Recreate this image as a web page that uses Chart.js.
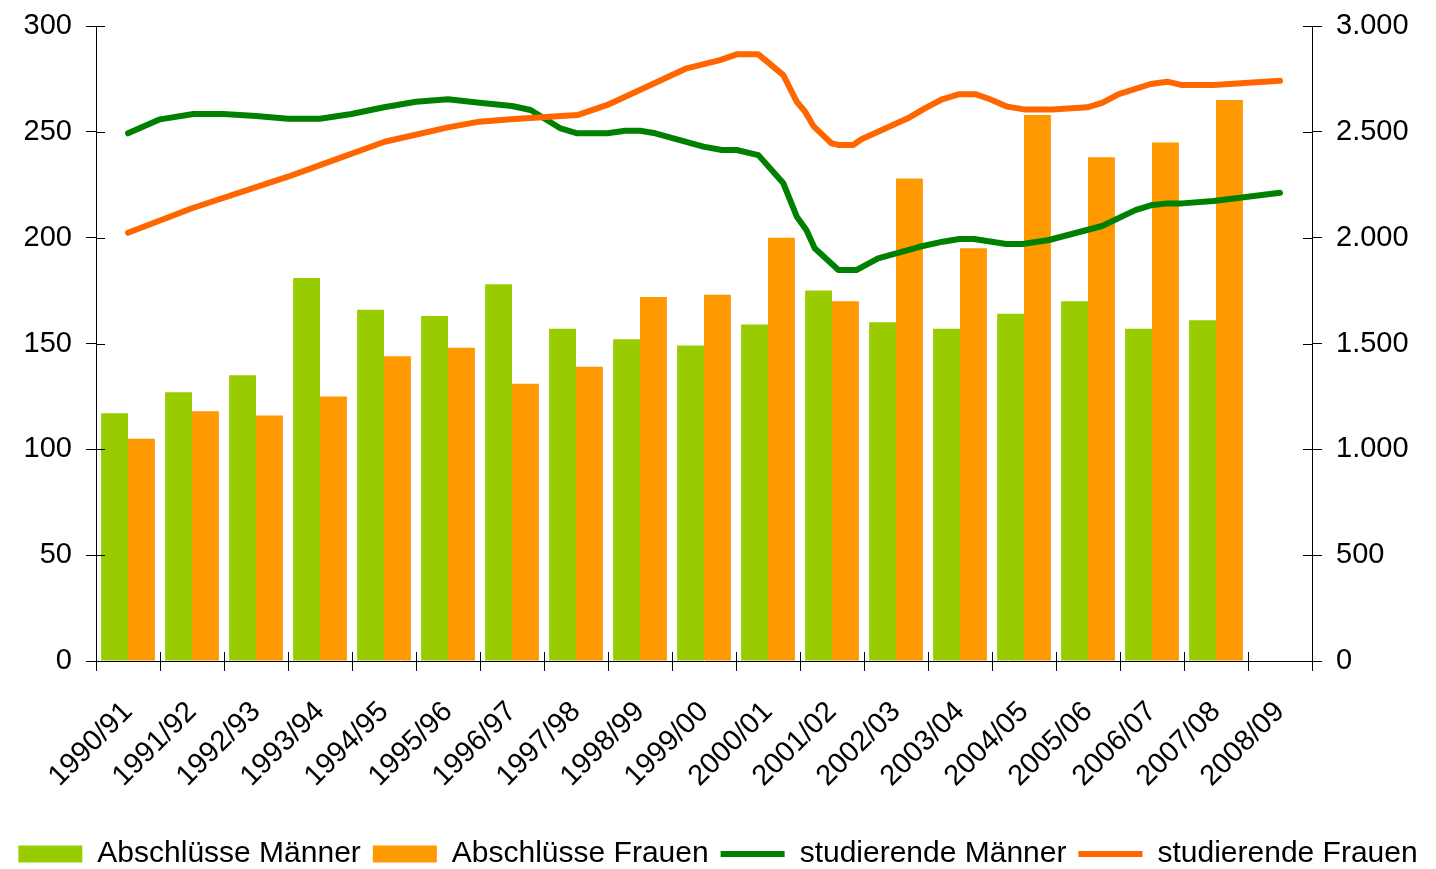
<!DOCTYPE html>
<html><head><meta charset="utf-8">
<script src="https://cdn.jsdelivr.net/npm/chart.js@4.4.1/dist/chart.umd.min.js"></script>
<style>html,body{margin:0;padding:0;background:#fff;overflow:hidden}</style>
</head><body>
<canvas id="c" width="1436" height="869" style="display:block;width:1436px;height:869px"></canvas>
<script>
const categories = ['1990/91','1991/92','1992/93','1993/94','1994/95','1995/96','1996/97','1997/98','1998/99','1999/00','2000/01','2001/02','2002/03','2003/04','2004/05','2005/06','2006/07','2007/08','2008/09'];
const abschluesseMaenner = [117,127,135,181,166,163,178,157,152,149,159,175,160,157,164,170,157,161,null];
const abschluesseFrauen = [105,118,116,125,144,148,131,139,172,173,200,170,228,195,258,238,245,265,null];
// studierende: time in academic years since 1990/91, values (right axis)
const maennerZeit = [0,0.5,1.02,1.49,2.0,2.5,3.0,3.49,4.0,4.5,5.0,5.49,6.0,6.29,6.76,7.02,7.49,7.77,8.0,8.24,8.99,9.28,9.51,9.85,10.24,10.45,10.6,10.73,11.1,11.38,11.72,12.37,12.73,12.99,13.22,13.72,13.98,14.39,15.22,15.74,15.98,16.24,16.47,16.96,18.0];
const maennerWerte = [2493,2559,2584,2584,2575,2562,2562,2584,2616,2642,2654,2637,2622,2603,2516,2493,2493,2505,2505,2493,2430,2414,2414,2390,2257,2099,2036,1950,1847,1847,1902,1957,1981,1994,1994,1970,1970,1989,2055,2130,2153,2162,2162,2173,2212];
const frauenZeit = [0,1.0,2.5,3.0,4.01,5.0,5.49,5.98,7.02,7.49,8.73,9.25,9.51,9.85,10.24,10.45,10.58,10.71,10.99,11.1,11.33,11.46,12.21,12.45,12.73,12.99,13.24,13.46,13.74,14.0,14.44,14.99,15.22,15.48,15.98,16.24,16.47,16.96,18.0];
const frauenWerte = [2023,2139,2288,2343,2453,2521,2548,2559,2579,2627,2800,2839,2866,2866,2768,2642,2595,2527,2446,2438,2438,2465,2568,2611,2655,2678,2678,2655,2619,2606,2606,2616,2637,2678,2726,2737,2721,2721,2741];
const leftTicks = {min:0, max:300, step:50};
const rightTicks = {min:0, max:3000, step:500};

const FONT = "'Liberation Sans', Arial, sans-serif";
const toPts = (xs, ys) => xs.map((x, i) => ({x: x, y: ys[i]}));
const byIndex = ys => ys.map((y, i) => ({x: i, y: y}));
const fmtDE = v => String(v).replace(/\B(?=(\d{3})+(?!\d))/g, '.');
const noPad = s => { s.paddingTop = 0; s.paddingBottom = 0; s.paddingLeft = 0; s.paddingRight = 0; };

const innerTicks = {
  id: 'innerTicks',
  afterDraw(chart) {
    const ctx = chart.ctx, a = chart.chartArea;
    const {x, y, y2} = chart.scales;
    ctx.save();
    ctx.strokeStyle = '#000';
    ctx.lineWidth = 1;
    y.ticks.forEach((t, i) => {
      const p = Math.round(y.getPixelForTick(i)) + 0.5;
      ctx.beginPath(); ctx.moveTo(a.left, p); ctx.lineTo(a.left + 9, p); ctx.stroke();
    });
    y2.ticks.forEach((t, i) => {
      const p = Math.round(y2.getPixelForTick(i)) + 0.5;
      ctx.beginPath(); ctx.moveTo(a.right, p); ctx.lineTo(a.right - 9, p); ctx.stroke();
    });
    for (let i = 0; i <= categories.length; i++) {
      const p = Math.round(x.getPixelForValue(i - 0.5)) + 0.5;
      ctx.beginPath(); ctx.moveTo(p, a.bottom); ctx.lineTo(p, a.bottom - 9); ctx.stroke();
    }
    ctx.restore();
  }
};
const legendFix = {
  id: 'legendFix',
  beforeLayout(chart) {
    const lg = chart.legend;
    if (lg && !lg.__patched) {
      const f = lg.fit;
      lg.fit = function() { f.call(this); this.height = 42; };
      lg.__patched = true;
    }
  }
};

new Chart(document.getElementById('c'), {
  data: {
    labels: categories,
    datasets: [
      {type:'bar', label:'Abschlüsse Männer', data: byIndex(abschluesseMaenner), backgroundColor:'#99CC00', borderWidth:0, pointStyle:'rect', xAxisID:'x2', yAxisID:'y', order:2, categoryPercentage:0.84, barPercentage:1},
      {type:'bar', label:'Abschlüsse Frauen', data: byIndex(abschluesseFrauen), backgroundColor:'#FF9900', borderWidth:0, pointStyle:'rect', xAxisID:'x2', yAxisID:'y', order:2, categoryPercentage:0.84, barPercentage:1},
      {type:'line', label:'studierende Männer', data: toPts(maennerZeit, maennerWerte), borderColor:'#008000', backgroundColor:'#008000', borderWidth:6, pointRadius:0, pointStyle:'line', tension:0, borderCapStyle:'round', borderJoinStyle:'round', xAxisID:'x2', yAxisID:'y2', order:1},
      {type:'line', label:'studierende Frauen', data: toPts(frauenZeit, frauenWerte), borderColor:'#FF6600', backgroundColor:'#FF6600', borderWidth:6, pointRadius:0, pointStyle:'line', tension:0, borderCapStyle:'round', borderJoinStyle:'round', xAxisID:'x2', yAxisID:'y2', order:0}
    ]
  },
  options: {
    responsive:false, animation:false, devicePixelRatio:1,
    layout:{padding:{top:26,left:0,right:0,bottom:0}},
    plugins:{
      tooltip:{enabled:false},
      legend:{position:'bottom', align:'center',
        labels:{usePointStyle:true, pointStyleWidth:64, boxHeight:17, padding:12, color:'#000', font:{family:FONT, size:30},
          sort:(a, b) => a.datasetIndex - b.datasetIndex}}
    },
    scales:{
      x:{type:'category', offset:true, position:'bottom',
        grid:{offset:true, drawOnChartArea:false, drawTicks:true, tickLength:10, color:'#000'},
        border:{display:true, color:'#000'},
        ticks:{autoSkip:false, minRotation:45, maxRotation:45, padding:24, color:'#000', font:{family:FONT, size:29}},
        afterFit(s){ s.height = 166; noPad(s); }},
      x2:{type:'linear', display:false, offset:false, bounds:'data', min:-0.5, max:18.5,
        afterBuildTicks(s){ s.ticks = categories.map((c, i) => ({value: i})); }},
      y:{type:'linear', position:'left', min:leftTicks.min, max:leftTicks.max, stacked:false,
        grid:{drawOnChartArea:false, tickLength:10, color:'#000'},
        border:{display:true, color:'#000'},
        ticks:{stepSize:leftTicks.step, padding:14, color:'#000', font:{family:FONT, size:29}},
        afterFit(s){ s.width = 96; noPad(s); }},
      y2:{type:'linear', position:'right', min:rightTicks.min, max:rightTicks.max, stacked:false,
        grid:{drawOnChartArea:false, tickLength:10, color:'#000'},
        border:{display:true, color:'#000'},
        ticks:{stepSize:rightTicks.step, padding:14, color:'#000', font:{family:FONT, size:29}, callback:v => fmtDE(v)},
        afterFit(s){ s.width = 124; noPad(s); }}
    }
  },
  plugins:[innerTicks, legendFix]
});
</script>
</body></html>
